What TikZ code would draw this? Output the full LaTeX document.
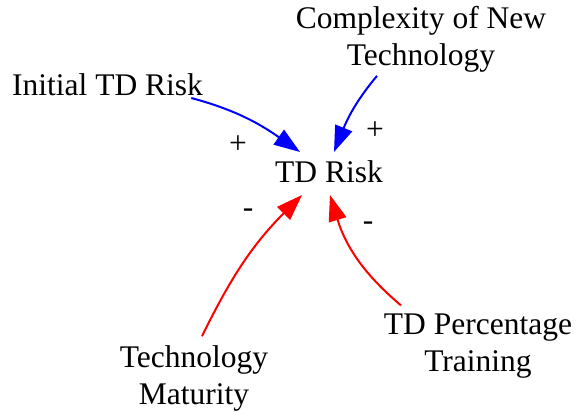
\documentclass[tikz,border=0pt]{standalone}
\usepackage{fontspec}
\setmainfont{Liberation Serif}
\usetikzlibrary{arrows.meta}

\begin{document}
\begin{tikzpicture}[x=0.5pt,y=0.5pt,
        var/.style={inner sep=0pt,align=center,font=\fontsize{15.75}{18.5}\selectfont},
        sgn/.style={inner sep=0pt,font=\fontsize{15.75}{18.5}\selectfont},
        pos link/.style={draw=blue,line width=1pt,-{Triangle[length=13pt,width=9pt]}},
        neg link/.style={draw=red,line width=1pt,-{Triangle[length=13pt,width=9pt]}}]
        \useasboundingbox (0,0) rectangle (578,412);

        % variables
        \node[var,anchor=base] (risk) at (329,229) {TD Risk};
        \node[var,anchor=base] (init) at (107.5,316) {Initial TD Risk};
        \node[var] (cplx) at (421,372.5) {Complexity of New\\Technology};
        \node[var] (tech) at (194,34) {Technology\\Maturity};
        \node[var] (pct) at (478,66) {TD Percentage\\Training};

        % positive links
        \draw[pos link] ([shift={(-12,-2)}]init.base east) to[out=-15,in=145] ([shift={(-29,31)}]risk.base); % initial risk
        \draw[pos link] ([shift={(-44,-3)}]cplx.south) to[out=-130,in=68] ([shift={(5,31)}]risk.base); % complexity

        % negative links
        \draw[neg link] ([shift={(8,8.5)}]tech.north) to[out=64,in=225] ([shift={(-27,-12)}]risk.base); % maturity
        \draw[neg link] ([shift={(-77,8)}]pct.north) to[out=140,in=-73] ([shift={(1,-12)}]risk.base); % training

        % polarities
        \node[sgn] (plus init) at (238,267) {+};
        \node[sgn] (plus cplx) at (375,281) {+};
        \node[sgn] (minus tech) at (248,199) {-};
        \node[sgn] (minus pct) at (368,186) {-};
    \end{tikzpicture}
\end{document}
